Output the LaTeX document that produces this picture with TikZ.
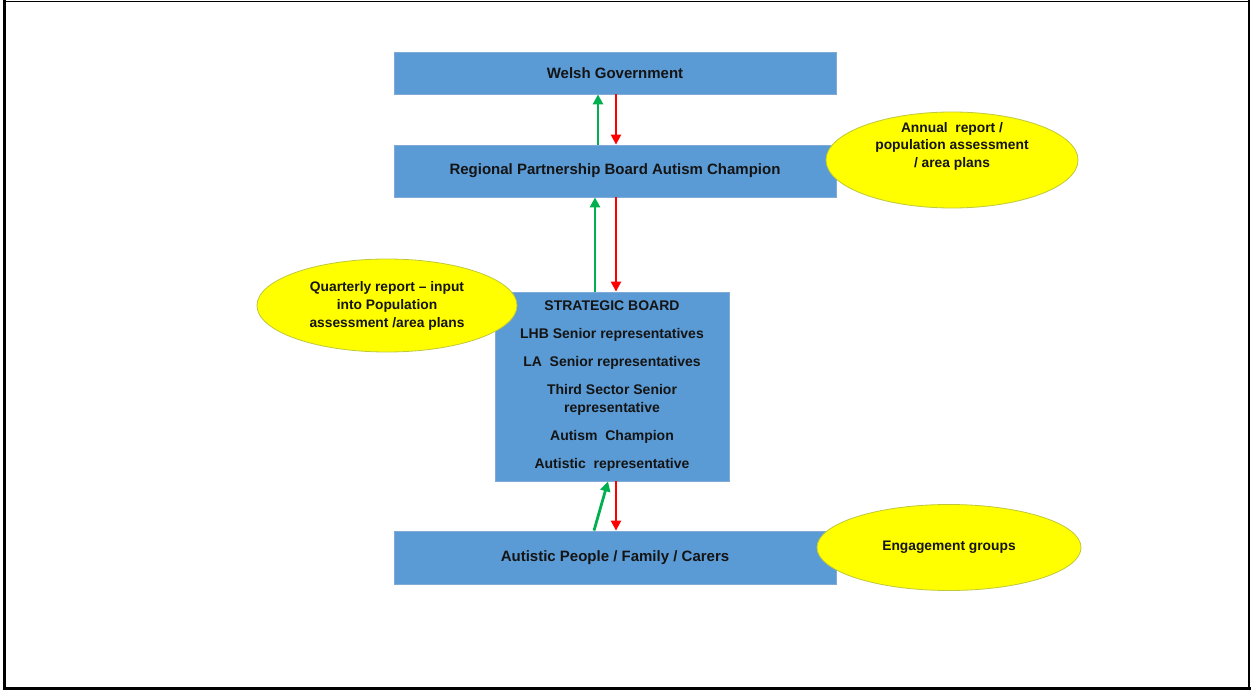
\documentclass[tikz,border=0pt]{standalone}
\usepackage{fontspec}
\setmainfont{Liberation Sans}
\usetikzlibrary{arrows.meta,shapes.geometric}
\definecolor{boxblue}{RGB}{91,155,213}
\definecolor{boxedge}{RGB}{130,170,215}
\definecolor{ellyellow}{RGB}{255,255,0}
\definecolor{elledge}{RGB}{190,200,60}
\definecolor{upgreen}{RGB}{0,176,80}
\definecolor{downred}{RGB}{255,0,0}
\definecolor{txt}{RGB}{20,20,20}
\begin{document}
\begin{tikzpicture}[x=1pt,y=-1pt,
  bluebox/.style={draw=boxedge,line width=0.8pt,fill=boxblue,inner sep=0pt,text=txt,
    font=\bfseries\fontsize{15}{17}\selectfont,align=center},
  note/.style={ellipse,draw=elledge,line width=0.8pt,fill=ellyellow,inner sep=0pt,text=txt,
    font=\bfseries\fontsize{13.8}{18}\selectfont,align=center},
  uparrow/.style={draw=upgreen,line width=2.8pt,-{Triangle[width=10pt,length=10pt]}},
  downarrow/.style={draw=downred,line width=2.2pt,-{Triangle[width=10pt,length=10pt]}}]
\useasboundingbox (0,0) rectangle (1251,690);
% frame
\draw[line width=1pt] (3,1.5) -- (1250,1.5);
\draw[line width=3pt] (4,0) -- (4,690);
\draw[line width=2.5pt] (1249,0) -- (1249,690);
\draw[line width=2.5pt] (3,688.5) -- (1251,688.5);
% boxes
\node[bluebox,minimum width=442pt,minimum height=42pt] (wg) at (615,73) {Welsh Government};
\node[bluebox,minimum width=442pt,minimum height=52pt] (rpb) at (615,171) {Regional Partnership Board Autism Champion};
\node[bluebox,minimum width=234pt,minimum height=189pt,font=\bfseries\fontsize{14}{18}\selectfont] (sb) at (612,386.5)
  {STRATEGIC BOARD\\[10pt]LHB Senior representatives\\[10pt]LA\ \ Senior representatives\\[10pt]Third Sector Senior\\representative\\[10pt]Autism\ \ Champion\\[10pt]Autistic\ \ representative};
\node[bluebox,minimum width=442pt,minimum height=53pt] (ap) at (615,557.5) {Autistic People / Family / Carers};
% notes
\node[note,minimum width=252pt,minimum height=96pt] (annual) at (952,160) {};
\node[text=txt,font=\bfseries\fontsize{13.8}{17.5}\selectfont,align=center] (annualtxt) at (952,146) {Annual\ \ report /\\population assessment\\/ area plans};
\node[note,minimum width=260pt,minimum height=93pt] (quarter) at (387,305.5) {Quarterly report -- input\\into Population\\assessment /area plans};
\node[note,minimum width=264pt,minimum height=86pt] (engage) at (949,547.5) {Engagement groups};
% connectors
\draw[uparrow] ([xshift=-17pt]rpb.north) -- ([xshift=-17pt]wg.south);
\draw[downarrow] ([xshift=1pt]wg.south) -- ([xshift=1pt]rpb.north);
\draw[uparrow] ([xshift=-17pt]sb.north) -- ([xshift=-20pt]rpb.south);
\draw[downarrow] ([xshift=1pt]rpb.south) -- ([xshift=4pt]sb.north);
\draw[uparrow] ([xshift=-21pt]ap.north) -- ([xshift=-4pt]sb.south);
\draw[downarrow] ([xshift=4pt]sb.south) -- ([xshift=1pt]ap.north);
\end{tikzpicture}
\end{document}
